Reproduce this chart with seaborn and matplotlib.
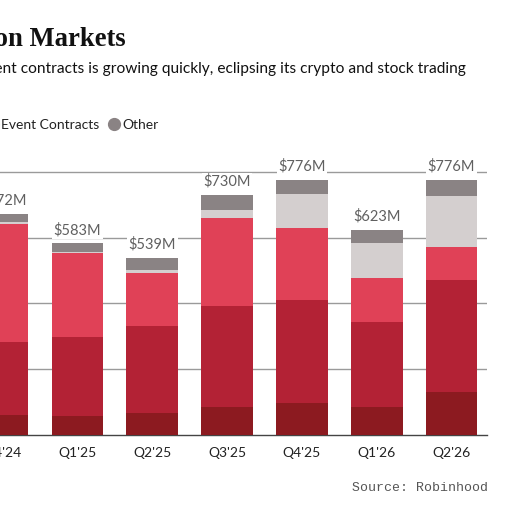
import numpy as np
import pandas as pd
import matplotlib
matplotlib.use("Agg")
import matplotlib.pyplot as plt
from matplotlib.lines import Line2D
import seaborn as sns

sns.set_style("white")
plt.rcParams['font.family'] = ['Lato', 'DejaVu Sans']

# data (millions of dollars)
quarters = ["Q4'24", "Q1'25", "Q2'25", "Q3'25", "Q4'25", "Q1'26", "Q2'26"]
equities = [61, 57, 66, 86, 96, 84, 132]
options = [221, 242, 265, 305, 314, 259, 339]
crypto = [358, 253, 160, 268, 220, 135, 101]
event_contracts = [7, 4, 10, 26, 102, 104, 155]
other = [25, 27, 38, 45, 44, 41, 49]
totals = ["$672M", "$583M", "$539M", "$730M", "$776M", "$623M", "$776M"]

series = ["Equities", "Options", "Crypto", "Event Contracts", "Other"]
colors = ["#8c1a20", "#b32235", "#e04157", "#d4cfcf", "#8a8384"]

df = pd.DataFrame({"quarter": quarters, "Equities": equities, "Options": options,
                   "Crypto": crypto, "Event Contracts": event_contracts, "Other": other})
cum = df[series].cumsum(axis=1)

fig = plt.figure(figsize=(5.2, 5.2), dpi=100)
# axes runs past the left edge, the reference is a crop
ax = fig.add_axes([-42.2 / 520, 85 / 520, 528.9 / 520, 269.9 / 520])

# stacked bars: draw cumulative heights from the top series down
for name, col in zip(reversed(series), reversed(colors)):
    sns.barplot(x=df["quarter"], y=cum[name], color=col, width=0.69,
                linewidth=0, saturation=1, ax=ax, zorder=3)

ax.set_xlim(-0.6, 6.47)
ax.set_ylim(0, 820)
ax.set_yticks([200, 400, 600, 800])
ax.yaxis.grid(True, color="#9a9a9a", linewidth=1.0, zorder=0)
ax.set_axisbelow(True)
for s in ["left", "right", "top"]:
    ax.spines[s].set_visible(False)
ax.spines["bottom"].set_color("#444444")
ax.spines["bottom"].set_linewidth(1.0)
ax.tick_params(axis="y", left=False, labelleft=False)
ax.tick_params(axis="x", bottom=False, labelsize=10, labelcolor="#222222", pad=5)
ax.set_xlabel("")
ax.set_ylabel("")

for i, lab in enumerate(totals):
    top = cum["Other"].iloc[i]
    ax.annotate(lab, (i, top), xytext=(0, 6.5), textcoords="offset points",
                ha="center", va="baseline", fontsize=10.5, color="#606060",
                bbox=dict(boxstyle="square,pad=0.1", fc="white", ec="none"),
                zorder=5, annotation_clip=False)

fig.text(126 / 520, 1 - 46.5 / 520, "Robinhood Bets Big on Prediction Markets",
         ha="right", va="baseline", fontsize=19.2, fontweight="bold",
         family=["Liberation Serif", "DejaVu Serif"], color="#111111")
fig.text(466 / 520, 1 - 72.5 / 520,
         "Robinhood's revenue from event contracts is growing quickly, eclipsing its crypto and stock trading",
         ha="right", va="baseline", fontsize=11.2, color="#111111")

handles = [Line2D([], [], marker="o", linestyle="none", markersize=8.5,
                  markerfacecolor=c, markeredgecolor=c) for c in colors]
fig.legend(handles, series, loc="center right", bbox_to_anchor=(166 / 520, 1 - 125 / 520),
           ncol=5, frameon=False, fontsize=10, handletextpad=0.1, columnspacing=0.6,
           handlelength=1.0, borderpad=0, labelcolor="#222222")

fig.text(488 / 520, 1 - 491 / 520, "Source: Robinhood", ha="right", va="baseline",
         fontsize=9.5, family=["Liberation Mono", "DejaVu Sans Mono"], color="#555555")

fig.savefig("out.png", dpi=100)
